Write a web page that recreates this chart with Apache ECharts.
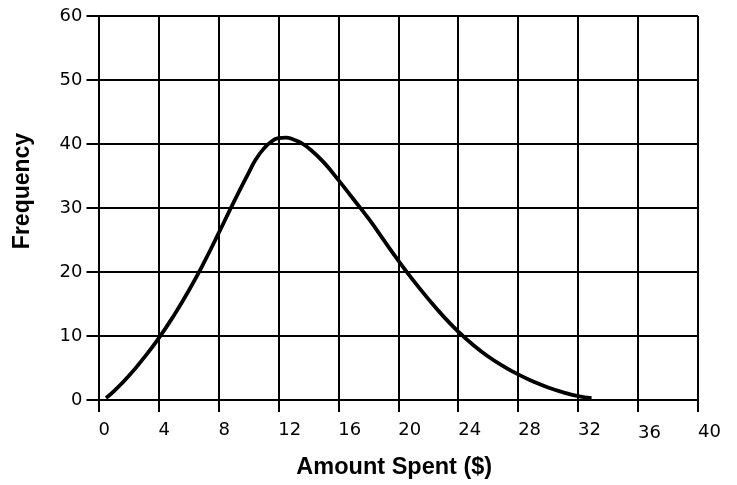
<!DOCTYPE html>
<html><head><meta charset="utf-8">
<script src="https://cdn.jsdelivr.net/npm/echarts@6/dist/echarts.min.js"></script>
<style>html,body{margin:0;padding:0;background:#fff}#c{width:737px;height:485px}</style>
</head><body><div id="c"></div>
<script>
const xValues = [0.5, 1, 2, 3, 4, 5, 6, 7, 8, 9, 10, 10.5, 11, 11.5, 12, 12.5, 13, 13.5, 14, 15, 16, 17, 18, 19, 20, 21, 22, 23, 24, 25, 26, 27, 28, 29, 30, 31, 32, 32.9];
const frequency = [0.3, 1.3, 3.7, 6.5, 9.6, 13.1, 17.0, 21.3, 26.0, 30.8, 35.4, 37.6, 39.2, 40.3, 40.9, 41.0, 40.7, 40.2, 39.4, 37.2, 34.4, 31.4, 28.4, 25.1, 21.8, 18.7, 15.8, 13.1, 10.7, 8.6, 6.8, 5.3, 4.0, 2.9, 1.95, 1.2, 0.6, 0.3];
const xTicks = [0, 4, 8, 12, 16, 20, 24, 28, 32, 36, 40];
const yTicks = [0, 10, 20, 30, 40, 50, 60];
const xName = 'Amount Spent ($)';
const yName = 'Frequency';

const chart = echarts.init(document.getElementById('c'));
const black = '#000';
const lab = {fontFamily: 'DejaVu Sans', fontSize: 18, color: black};
chart.setOption({
  animation: false,
  grid: {left: 98.5, right: 39, top: 16, bottom: 85},
  xAxis: {
    type: 'value', min: xTicks[0], max: xTicks[xTicks.length-1], interval: xTicks[1]-xTicks[0],
    name: xName, nameLocation: 'middle', nameGap: 56,
    nameTextStyle: {fontFamily: 'Liberation Sans', fontWeight: 'bold', fontSize: 23.5, color: black, padding: [0, 8, 0, 0]},
    axisLine: {show: true, lineStyle: {color: black, width: 2}},
    axisTick: {show: true, length: 12, lineStyle: {color: black, width: 2}},
    splitLine: {show: true, lineStyle: {color: black, width: 2}},
    axisLabel: {
      margin: 21, align: 'left', color: black, fontFamily: 'DejaVu Sans', fontSize: 18,
      formatter: v => v === 36 ? '{c|36}' : (v === 40 ? '{b|40}' : '{a|' + v + '}'),
      rich: {
        a: Object.assign({}, lab),
        b: Object.assign({padding: [2, 0, 0, 0]}, lab),
        c: Object.assign({padding: [3, 0, 0, 0]}, lab)
      }
    }
  },
  yAxis: {
    type: 'value', min: yTicks[0], max: yTicks[yTicks.length-1], interval: yTicks[1]-yTicks[0],
    name: yName, nameLocation: 'middle', nameGap: 64, nameRotate: 90,
    nameTextStyle: {fontFamily: 'Liberation Sans', fontWeight: 'bold', fontSize: 23, color: black, padding: [0, 0, 0, 34]},
    axisLine: {show: true, lineStyle: {color: black, width: 2}},
    axisTick: {show: true, length: 12, lineStyle: {color: black, width: 2}},
    splitLine: {show: true, lineStyle: {color: black, width: 2}},
    axisLabel: {margin: 16, color: black, fontFamily: 'DejaVu Sans', fontSize: 18}
  },
  series: [{
    type: 'line', smooth: 0.5, symbol: 'none',
    data: xValues.map((x, i) => [x, frequency[i]]),
    lineStyle: {color: black, width: 3.8}
  }]
});
</script></body></html>
